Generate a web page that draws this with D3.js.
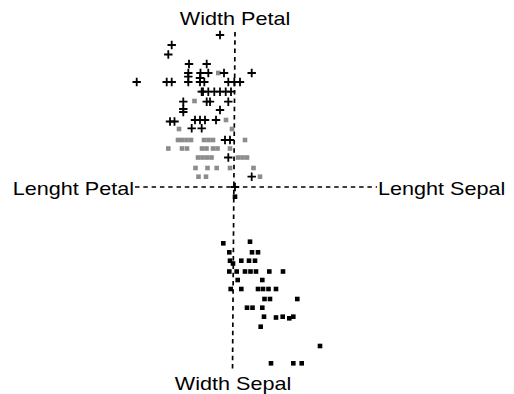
<!DOCTYPE html>
<html>
<head>
<meta charset="utf-8">
<script src="https://cdn.jsdelivr.net/npm/d3@7"></script>
<style>
  html, body { margin: 0; padding: 0; background: #fff; }
  svg { display: block; }
</style>
</head>
<body>
<div id="chart"></div>
<script>
// axis labels
const axisLabels = { top: 'Width Petal', bottom: 'Width Sepal', left: 'Lenght Petal', right: 'Lenght Sepal' };

// "+" points (black)
const plusPoints = [
  [-1.5, 15.2], [-6.33, 14.2], [-6.67, 13.25], [-4.6, 12.3], [-2.83, 12.3],
  [-4.67, 11.4], [-3.45, 11.4], [-2.67, 11.4], [-1.1, 11.4], [1.67, 11.4],
  [-4.67, 11.03], [-3.5, 10.9],
  [-9.83, 10.5], [-6.83, 10.5], [-6.33, 10.5], [-4.67, 10.5], [-3.5, 10.5], [-3.07, 10.5],
  [-0.67, 10.5], [-0.07, 10.5], [0.5, 10.5],
  [-3.33, 9.53], [-3.2, 9.53], [-2.67, 9.53], [-2.07, 9.53], [-1.5, 9.53], [-0.93, 9.53], [-0.4, 9.53],
  [-5.17, 8.53], [-2.83, 8.53], [-2.5, 8.53], [-0.67, 8.53],
  [-1.5, 7.7], [-5.17, 7.8], [-5.17, 7.5],
  [-4, 6.7], [-3.5, 6.7], [-3, 6.7], [-1.9, 6.7],
  [-6.5, 6.55], [-6.05, 6.55],
  [-4.33, 5.87], [-3.33, 5.87],
  [-1, 4.7], [-0.5, 4.7],
  [-0.67, 2.95], [1.67, 1.03], [0, 0]
];

// grey squares
const greyPoints = [
  [-1.67, 11.4], [-4.05, 8.6], [-0.9, 6.7], [-5.6, 5.8], [-0.3, 5.8],
  [-5.7, 4.7], [-5.3, 4.7], [-4.85, 4.7], [-4.4, 4.7], [-3.1, 4.7], [-2.65, 4.7], [-2.2, 4.7], [1.0, 4.7],
  [-6.67, 3.85], [-5.3, 3.85], [-4.8, 3.85], [-3.3, 3.85], [-2.85, 3.85], [-2.2, 3.85], [-1.75, 3.85], [-0.5, 3.85],
  [-3.7, 2.95], [-3.25, 2.95], [-2.8, 2.95], [-2.35, 2.95], [0.3, 2.95], [0.75, 2.95], [1.2, 2.95],
  [-3.95, 1.9], [-2.75, 1.9], [-1.83, 1.9], [-0.5, 1.9], [1.85, 1.9],
  [-3.65, 1.03], [-2.9, 1.03], [2.5, 1.03]
];

// black squares
const blackPoints = [
  [0, -0.97],
  [-1.17, -5.63], [1.5, -5.47],
  [-0.57, -6.53], [1.7, -6.53], [2.3, -6.53],
  [-0.5, -7.37], [0.63, -7.37], [1.4, -7.37], [2.0, -7.37], [-0.2, -7.65],
  [-0.57, -8.45], [0.17, -8.45], [1.0, -8.45], [1.55, -8.45], [2.1, -8.45], [3.43, -8.45], [4.8, -8.45],
  [0.27, -9.3], [2.73, -9.3],
  [-0.43, -10.2], [0.63, -10.2], [2.3, -10.2], [2.8, -10.2], [3.35, -10.2], [4.1, -10.2],
  [2.95, -11.2], [3.5, -11.2], [6.23, -11.2],
  [1.2, -12.07], [1.75, -12.07], [2.73, -12.07],
  [2.9, -12.97], [4.1, -13.05], [4.77, -12.97], [5.43, -13.13], [5.83, -12.97],
  [2.57, -13.97], [8.5, -15.9],
  [3.6, -17.63], [5.83, -17.63], [6.67, -17.63]
];

// extent of the dashed axes, data units
const hAxis = [-10, 14.2];
const vAxis = [[0, 15.5], [-0.25, -18.5]];

const width = 514, height = 394;
const x = d3.scaleLinear().domain([-10, 10]).range([135, 335]);
const y = d3.scaleLinear().domain([-10, 10]).range([287, 87]);

const svg = d3.select('#chart').append('svg')
  .attr('width', width)
  .attr('height', height);

// dashed axes
svg.append('line')
  .attr('x1', x(hAxis[0])).attr('x2', x(hAxis[1]))
  .attr('y1', y(0)).attr('y2', y(0))
  .attr('stroke', '#000').attr('stroke-width', 1.4)
  .attr('stroke-dasharray', '4.5,3.8');

svg.append('line')
  .attr('x1', x(vAxis[0][0])).attr('x2', x(vAxis[1][0]))
  .attr('y1', y(vAxis[0][1])).attr('y2', y(vAxis[1][1]))
  .attr('stroke', '#000').attr('stroke-width', 1.7)
  .attr('stroke-dasharray', '4.5,3.8');

// grey squares
const sq = 4.6;
svg.append('g').selectAll('rect')
  .data(greyPoints)
  .join('rect')
  .attr('x', d => x(d[0]) - sq / 2)
  .attr('y', d => y(d[1]) - sq / 2)
  .attr('width', sq).attr('height', sq)
  .attr('fill', '#8c8c8c');

// black squares
svg.append('g').selectAll('rect')
  .data(blackPoints)
  .join('rect')
  .attr('x', d => x(d[0]) - sq / 2)
  .attr('y', d => y(d[1]) - sq / 2)
  .attr('width', sq).attr('height', sq)
  .attr('fill', '#000');

// plus markers
const arm = 4.2;
svg.append('g').selectAll('path')
  .data(plusPoints)
  .join('path')
  .attr('d', d => {
    const cx = x(d[0]), cy = y(d[1]);
    return `M${cx - arm},${cy}H${cx + arm}M${cx},${cy - arm}V${cy + arm}`;
  })
  .attr('stroke', '#000')
  .attr('stroke-width', 1.8)
  .attr('fill', 'none');

// labels
const font = '"Liberation Sans", Arial, sans-serif';
const sx = 1.2;
function label(text, px, py, anchor) {
  svg.append('text')
    .attr('transform', `translate(${px},${py}) scale(${sx},1)`)
    .attr('text-anchor', anchor)
    .attr('font-family', font)
    .attr('font-size', 18)
    .attr('fill', '#000')
    .text(text);
}

label(axisLabels.top, x(0), 25, 'middle');
label(axisLabels.bottom, x(-0.2), 390, 'middle');
label(axisLabels.left, x(hAxis[0]) - 1, y(0) + 8, 'end');
label(axisLabels.right, x(hAxis[1]) + 1, y(0) + 8, 'start');
</script>
</body>
</html>
